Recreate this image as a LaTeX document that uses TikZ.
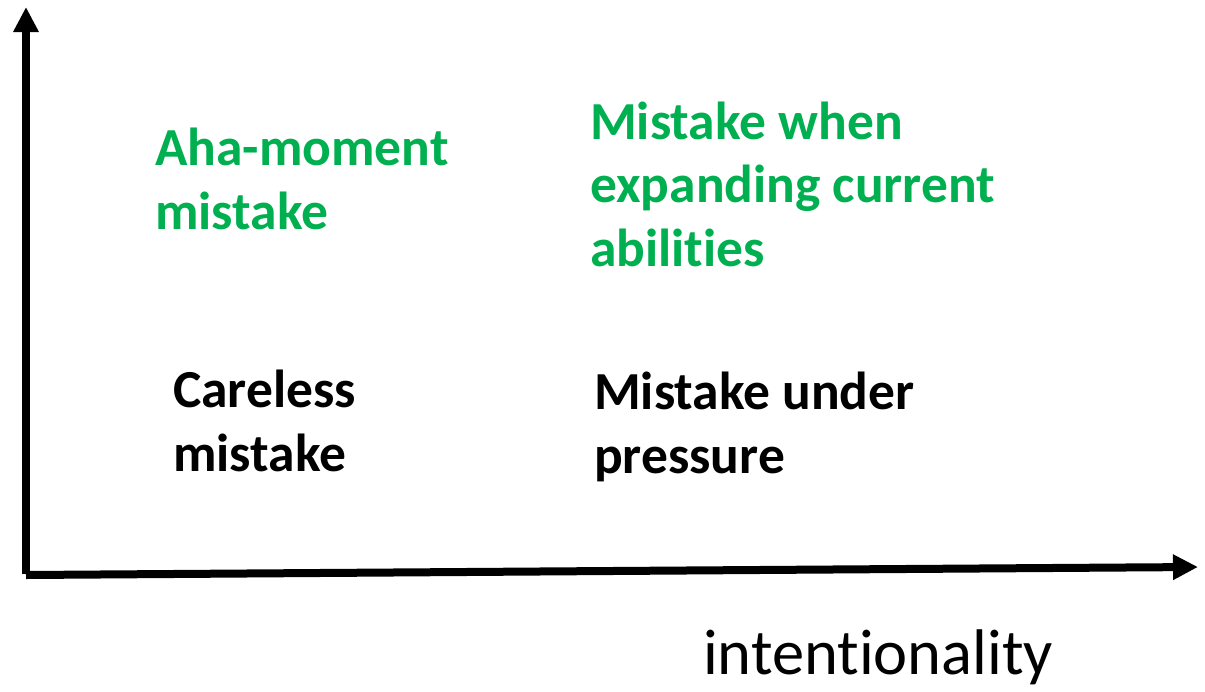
\documentclass[tikz,border=0pt]{standalone}
\usepackage{fontspec}
\setmainfont{Carlito}[Ligatures=NoCommon]
\usepackage{tikz}
\usetikzlibrary{arrows.meta}
\definecolor{goodGreen}{HTML}{00B050}

\begin{document}
\begin{tikzpicture}[x=1pt, y=-1pt,
  axis/.style={line width=8pt, -{Triangle[length=25pt, width=24pt]}},
  quad/.style={anchor=base west, inner sep=0pt, align=left, font=\bfseries\fontsize{53.5}{63.5}\selectfont},
  good/.style={quad, text=goodGreen}]
\useasboundingbox (0,0) rectangle (1205,691);
\coordinate (origin) at (26,575);
\coordinate (ytip) at (26,7);
\coordinate (xtip) at (1198,567);
\draw[axis] ([yshift=1pt]origin) -- (ytip);
\draw[axis] (origin) -- (xtip);
% upper row: mistakes that help (anchored on the last baseline)
\node[good] (aha) at (155,229) {Aha-moment\\mistake};
\node[good] (expand) at (590,266) {Mistake when\\expanding current\\abilities};
% lower row
\node[quad] (careless) at (173,471) {Careless\\mistake};
\node[quad] (pressure) at (594,473) {Mistake under\\pressure};
\node[anchor=base west, inner sep=0pt, font=\fontsize{64.5}{74}\selectfont] (xlabel) at (703,674) {intentionality};
\end{tikzpicture}
\end{document}
